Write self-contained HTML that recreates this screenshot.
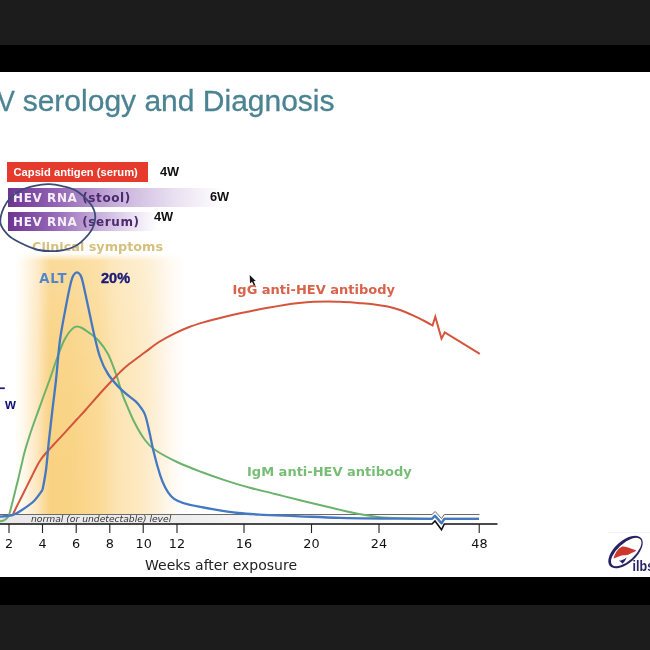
<!DOCTYPE html>
<html lang="en"><head><meta charset="utf-8"><title>HEV serology and Diagnosis</title>
<style>
html,body{margin:0;padding:0;}
body{width:650px;height:650px;overflow:hidden;background:#1c1c1c;position:relative;font-family:"Liberation Sans",sans-serif;}
.letter-top{position:absolute;left:0;top:45px;width:650px;height:27px;background:#000;}
.letter-bot{position:absolute;left:0;top:577px;width:650px;height:28px;background:#000;}
.slide{position:absolute;left:0;top:72px;width:650px;height:505px;background:#fff;overflow:hidden;}
h1{position:absolute;left:0;top:12px;margin:0;font-weight:400;font-size:30px;line-height:34px;color:#4a8391;-webkit-text-stroke:0.3px #4a8391;white-space:nowrap;letter-spacing:0;width:650px;height:40px;}
h1 .v{position:absolute;left:-2.6px;top:0;transform:scaleX(0.89);transform-origin:0 0;}
h1 .r{position:absolute;left:22.7px;top:0;}
.bar{position:absolute;height:20px;white-space:nowrap;}
.bar.red{left:7px;top:89.5px;width:141px;height:20.5px;background:#e63a2c;color:#fff;font-weight:700;font-size:11.2px;line-height:20.5px;text-indent:6.5px;}
.bar.p1{left:8px;top:116px;width:215px;height:19px;background:linear-gradient(90deg,#6c3492 0%,#9262b3 22%,#c7afdb 50%,#eae1f2 78%,#fff 100%);}
.bar.p2{left:8px;top:140px;width:150px;height:19px;background:linear-gradient(90deg,#6c3492 0%,#9262b3 28%,#c7afdb 60%,#ede5f4 85%,#fff 100%);}
.bar span{position:absolute;left:5px;top:1px;font-family:"DejaVu Sans",sans-serif;font-weight:700;font-size:12px;line-height:19px;letter-spacing:0.6px;}
.bar .w{color:#f4eef8;}
.bar .d{color:#4b2a6e;}
.wk{position:absolute;font-weight:700;font-size:12.8px;line-height:14px;color:#111;}
.clin{position:absolute;left:32px;top:165px;font-weight:700;font-size:13.5px;line-height:16px;color:#cdb46c;white-space:nowrap;}
svg{position:absolute;left:0;top:0;}
svg text{font-family:"Liberation Sans",sans-serif;}
svg .dj, svg .dj text{font-family:"DejaVu Sans",sans-serif;}
</style></head>
<body>
<div class="letter-top"></div>
<div class="slide">
  <h1><span class="v">V</span> <span class="r">serology and Diagnosis</span></h1>
  <div class="bar red">Capsid antigen (serum)</div>
  <div class="wk" style="left:160px;top:93px">4W</div>
  <div class="bar p1"><span><span class="w" style="position:static">HEV RNA </span><span class="d" style="position:static">(stool)</span></span></div>
  <div class="wk" style="left:210px;top:118px">6W</div>
  <div class="bar p2"><span><span class="w" style="position:static">HEV RNA </span><span class="d" style="position:static">(serum)</span></span></div>
  <div class="wk" style="left:154px;top:138px">4W</div>
  <svg width="650" height="505" viewBox="0 72 650 505">
    <defs>
      <linearGradient id="og" x1="0" x2="1" y1="0" y2="0">
        <stop offset="0.000" stop-color="#ffffff"/>
        <stop offset="0.047" stop-color="#fffaf0"/>
        <stop offset="0.093" stop-color="#fef0d6"/>
        <stop offset="0.140" stop-color="#fde6bc"/>
        <stop offset="0.174" stop-color="#fbdb9c"/>
        <stop offset="0.209" stop-color="#f9d282"/>
        <stop offset="0.326" stop-color="#f9d384"/>
        <stop offset="0.413" stop-color="#fad68c"/>
        <stop offset="0.500" stop-color="#fbda96"/>
        <stop offset="0.523" stop-color="#fbdc9c"/>
        <stop offset="0.570" stop-color="#fce1ac"/>
        <stop offset="0.628" stop-color="#fde5b6"/>
        <stop offset="0.703" stop-color="#fde8be"/>
        <stop offset="0.779" stop-color="#fdecca"/>
        <stop offset="0.849" stop-color="#fef2de"/>
        <stop offset="0.907" stop-color="#fff8ee"/>
        <stop offset="0.965" stop-color="#fffdfb"/>
        <stop offset="1.000" stop-color="#ffffff"/>
      </linearGradient>
      <linearGradient id="nb" x1="0" x2="1" y1="0" y2="0"><stop offset="0" stop-color="#e9e9e9"/><stop offset="0.36" stop-color="#ececec"/><stop offset="0.55" stop-color="#f8f8f8"/><stop offset="1" stop-color="#fdfdfd"/></linearGradient>
      <linearGradient id="ogv" x1="0" x2="0" y1="0" y2="1">
        <stop offset="0" stop-color="#fff" stop-opacity="1"/>
        <stop offset="0.03" stop-color="#fff" stop-opacity="0.2"/>
        <stop offset="0.3" stop-color="#fff" stop-opacity="0.08"/>
        <stop offset="0.6" stop-color="#fff" stop-opacity="0.02"/>
        <stop offset="1" stop-color="#fff" stop-opacity="0"/>
      </linearGradient>
    </defs>
    <rect x="14" y="253" width="172" height="261" fill="url(#og)"/>
    <rect x="14" y="253" width="172" height="261" fill="url(#ogv)"/>
    <text x="32" y="251" font-size="12.8" font-weight="700" fill="#d6c07e" class="dj">Clinical symptoms</text>
    <!-- normal band -->
    <rect x="0" y="514" width="479" height="10" fill="url(#nb)"/>
    <path d="M0 514.5H432L435.2 511.5L441.5 518.5L444.3 514.5H479.5" fill="none" stroke="#6a6a6a" stroke-width="1"/>
    <text x="31" y="522.4" font-size="9.2" font-style="italic" fill="#333" class="dj">normal (or undetectable) level</text>
    <!-- curves -->
    <path d="M-2.0 521.4 C-1.2 521.3 1.6 521.2 3.0 520.7 C4.4 520.2 5.5 519.6 6.5 518.6 C7.5 517.6 8.1 517.4 9.0 515.0 C9.9 512.6 11.0 507.8 12.0 504.0 C13.0 500.2 14.0 496.0 15.0 492.0 C16.0 488.0 16.9 484.5 18.0 480.0 C19.1 475.5 20.3 469.9 21.5 465.0 C22.7 460.1 23.5 455.8 25.0 450.5 C26.5 445.2 28.5 439.0 30.3 433.5 C32.1 428.0 34.0 422.7 35.9 417.5 C37.8 412.3 39.5 407.4 41.4 402.3 C43.2 397.2 45.1 392.1 47.0 387.0 C48.9 381.9 50.7 376.8 52.5 371.5 C54.3 366.2 56.1 360.5 58.0 355.5 C59.9 350.5 61.8 345.3 63.6 341.5 C65.4 337.7 67.4 334.7 69.0 332.5 C70.6 330.3 71.7 329.2 73.0 328.2 C74.3 327.2 75.5 326.6 77.0 326.6 C78.5 326.6 80.2 327.1 82.0 328.0 C83.8 328.9 85.3 330.0 88.0 332.0 C90.7 334.0 94.7 336.3 98.0 340.0 C101.3 343.7 105.0 348.3 108.0 354.0 C111.0 359.7 113.8 368.0 116.0 374.0 C118.2 380.0 119.6 385.7 121.0 390.0 C122.4 394.3 122.4 394.8 124.6 400.0 C126.8 405.2 130.6 414.8 134.0 421.5 C137.4 428.2 141.5 435.3 145.0 440.0 C148.5 444.7 149.5 446.1 154.8 449.8 C160.1 453.5 169.2 458.3 177.0 462.0 C184.8 465.7 193.3 468.9 201.5 472.0 C209.7 475.1 217.8 477.9 226.0 480.6 C234.2 483.3 242.6 485.8 250.8 488.0 C259.0 490.2 267.2 491.9 275.4 494.0 C283.6 496.1 291.9 498.3 300.0 500.3 C308.1 502.3 314.4 503.8 324.0 506.0 C333.6 508.2 348.7 512.0 357.7 513.8 C366.7 515.6 370.9 516.2 378.0 517.0 C385.1 517.8 391.0 518.0 400.0 518.3 C409.0 518.6 426.7 518.7 432.0 518.8 L435 515.8L441.5 523.3L444.3 518.8H479" fill="none" stroke="#6bb36c" stroke-width="2" stroke-linejoin="round"/>
    <path d="M12.5 515.5 C12.9 514.6 13.2 513.8 15.0 510.0 C16.8 506.2 20.7 498.7 23.5 493.0 C26.3 487.3 29.8 480.5 32.0 476.0 C34.2 471.5 35.5 468.8 37.0 466.0 C38.5 463.2 39.5 461.5 41.0 459.3 C42.5 457.1 43.8 455.5 46.0 453.0 C48.2 450.5 50.7 447.9 54.0 444.3 C57.3 440.7 62.2 435.5 66.0 431.3 C69.8 427.1 73.7 422.9 77.0 419.3 C80.3 415.7 82.2 413.8 86.0 409.5 C89.8 405.2 95.7 398.3 100.0 393.5 C104.3 388.7 108.5 384.2 112.0 380.5 C115.5 376.8 118.1 374.0 121.0 371.2 C123.9 368.4 125.6 366.9 129.5 363.8 C133.4 360.7 139.4 356.4 144.3 352.8 C149.2 349.2 154.1 345.2 159.0 342.0 C163.9 338.8 168.9 336.2 173.8 333.8 C178.7 331.4 183.7 329.2 188.6 327.3 C193.5 325.4 197.7 324.1 203.4 322.4 C209.1 320.7 216.9 318.7 223.0 317.2 C229.1 315.7 234.7 314.4 240.0 313.3 C245.3 312.2 249.9 311.3 254.8 310.3 C259.7 309.3 264.6 308.4 269.5 307.5 C274.4 306.6 279.4 305.7 284.3 304.9 C289.2 304.1 294.1 303.4 299.0 302.9 C303.9 302.4 308.9 302.0 313.8 301.8 C318.7 301.6 323.7 301.5 328.6 301.5 C333.5 301.5 338.5 301.8 343.4 302.0 C348.3 302.2 353.1 302.5 358.0 302.9 C362.9 303.3 368.1 303.6 373.0 304.2 C377.9 304.8 383.2 305.6 387.7 306.6 C392.2 307.6 395.8 308.5 400.0 310.0 C404.2 311.5 408.8 313.5 413.0 315.4 C417.2 317.3 422.1 319.8 425.4 321.5 C428.6 323.2 431.3 324.8 432.5 325.5 L435.3 316.8L441.5 338.6L444.8 332.3L479.8 353.8" fill="none" stroke="#d4553c" stroke-width="2" stroke-linejoin="miter"/>
    <path d="M-2.0 516.8 C-0.3 516.7 5.3 516.4 8.0 516.0 C10.7 515.6 11.7 515.5 14.0 514.5 C16.3 513.5 18.7 512.2 22.0 510.0 C25.3 507.8 30.6 504.3 34.0 501.0 C37.4 497.7 41.1 491.8 42.5 490.0" fill="none" stroke="#4479c2" stroke-width="2.3"/>
    <path d="M42.5 490.0 C43.1 486.7 44.9 478.3 46.0 470.0 C47.1 461.7 47.9 450.0 49.0 440.0 C50.1 430.0 51.2 420.0 52.4 410.0 C53.6 400.0 54.7 391.7 56.0 380.0 C57.3 368.3 58.3 352.3 60.0 340.0 C61.7 327.7 64.2 315.7 66.0 306.0 C67.8 296.3 69.7 287.2 71.0 282.0 C72.3 276.8 73.0 276.1 74.0 274.5 C75.0 272.9 76.0 272.4 77.0 272.4 C78.0 272.4 79.1 273.1 80.0 274.5 C80.9 275.9 81.2 275.8 82.5 281.0 C83.8 286.2 86.1 297.2 88.0 306.0 C89.9 314.8 92.0 325.5 94.0 334.0 C96.0 342.5 97.7 350.3 100.0 357.0 C102.3 363.7 104.4 368.5 108.0 374.0 C111.6 379.5 117.0 385.4 121.6 389.9 C126.2 394.4 132.1 398.1 135.4 401.2 C138.7 404.3 139.8 406.1 141.5 408.5 C143.2 410.9 144.0 411.7 145.3 415.5 C146.6 419.3 148.0 425.5 149.3 431.4 C150.7 437.3 151.6 443.4 153.4 450.8 C155.2 458.2 158.3 469.5 160.3 475.7 C162.3 481.9 163.7 484.5 165.5 488.0 C167.3 491.5 169.4 494.4 171.4 496.5 C173.4 498.6 174.6 499.4 177.5 500.8 C180.4 502.2 182.9 503.3 189.0 504.7 C195.1 506.1 205.8 508.0 214.0 509.4 C222.2 510.8 230.3 512.1 238.5 513.0 C246.7 513.9 252.8 514.2 263.0 514.8 C273.2 515.3 287.2 515.8 300.0 516.3 C312.8 516.8 325.0 517.4 340.0 517.8 C355.0 518.2 374.7 518.4 390.0 518.6 C405.3 518.8 425.0 518.8 432.0 518.8 L435 515.8L441.5 523.3L444.3 518.8H479" fill="none" stroke="#4479c2" stroke-width="2.3" stroke-linejoin="round"/>
    <!-- axis -->
    <path d="M0 524H432L435 521L441.5 529.8L444.3 524H497.5" fill="none" stroke="#111" stroke-width="1.6"/>
    <g stroke="#222" stroke-width="1.1">
      <path d="M9 524V533M42.5 524V533M76.2 524V533M109.8 524V533M143.2 524V533M177 524V533M244 524V533M311.5 524V533M379 524V533M479.2 524V533"/>
    </g>
    <g font-size="12.8" fill="#111" text-anchor="middle" class="dj">
      <text x="9" y="547.5">2</text><text x="42.5" y="547.5">4</text><text x="76.2" y="547.5">6</text><text x="109.8" y="547.5">8</text>
      <text x="143.7" y="547.5">10</text><text x="177" y="547.5">12</text><text x="244" y="547.5">16</text><text x="311.5" y="547.5">20</text><text x="379" y="547.5">24</text><text x="479.5" y="547.5">48</text>
    </g>
    <text x="145" y="570" font-size="14" fill="#222" class="dj">Weeks after exposure</text>
    <text x="39.2" y="282.7" font-size="13.2" font-weight="700" fill="#5586ca" class="dj" letter-spacing="0.9">ALT</text>
    <text x="101" y="282.5" font-size="14.5" font-weight="700" fill="#1b1a78" stroke="#1b1a78" stroke-width="0.4">20%</text>
    <text x="232.5" y="294" font-size="13" font-weight="700" fill="#d8624a" class="dj">IgG anti-HEV antibody</text>
    <text x="247" y="475.5" font-size="13" font-weight="700" fill="#78bd76" class="dj">IgM anti-HEV antibody</text>
    <text x="5" y="408.8" font-size="14" font-weight="700" fill="#15147a">w</text>
    <rect x="0" y="387.4" width="4.8" height="1.7" fill="#1b1a72"/>
    <!-- circle annotation -->
    <path d="M48.0 184.2 C54.3 183.8 58.2 185.1 63.0 186.3 C67.8 187.5 72.4 188.4 77.0 191.3 C81.6 194.2 87.4 199.8 90.4 203.8 C93.4 207.8 94.9 211.2 95.2 215.4 C95.5 219.6 94.7 224.3 92.3 228.8 C89.9 233.3 84.3 239.1 80.8 242.3 C77.2 245.5 74.8 246.6 71.0 248.0 C67.2 249.4 63.1 250.7 57.7 251.0 C52.3 251.3 44.9 251.4 38.5 250.0 C32.1 248.6 24.3 244.9 19.2 242.3 C14.1 239.7 10.8 237.8 7.7 234.6 C4.6 231.4 1.1 227.5 0.4 223.0 C-0.2 218.5 1.9 212.0 3.8 207.7 C5.6 203.4 8.0 200.2 11.5 197.0 C15.0 193.8 18.9 190.6 25.0 188.5 C31.1 186.4 41.7 184.6 48.0 184.2Z" fill="none" stroke="#3a4b76" stroke-width="1.8"/>
    <!-- cursor -->
    <path d="M249.7 275L250 283.4L252 281.7L254 285.7L255.3 285.1L253.5 281.2L255.8 280.9Z" fill="#151515"/>
    <!-- logo -->
    <g>
      <path d="M608 532.6H650" stroke="#f0f0f0" stroke-width="1"/>
      <g transform="rotate(-42 625.5 552)">
        <ellipse cx="625.5" cy="552" rx="21" ry="11" fill="#272363"/>
        <ellipse cx="626" cy="552.5" rx="19" ry="8.6" fill="#fff"/>
      </g>
      <path d="M613.7 558.4C614.6 554 617.6 548.6 622.3 546.6C626.5 546 631 549 636.3 550.3C634 552.6 631.5 552.8 629.5 554C627.5 555.2 625.5 555.4 623 555.3C620 555.6 617.5 557.5 613.7 558.4Z" fill="#cc382b"/>
      <path d="M618.8 560.8C621.5 560.6 624.5 559.6 626.6 557.6C625.8 560 624.2 562.2 622.3 563.8C621.6 562.4 620.4 561.4 618.8 560.8Z" fill="#272363"/>
      <text x="632.6" y="570.8" font-size="14.5" font-weight="700" fill="#272363" textLength="21.5" lengthAdjust="spacingAndGlyphs">ilbs</text>
    </g>
  </svg>
</div>
<div class="letter-bot"></div>
</body></html>
